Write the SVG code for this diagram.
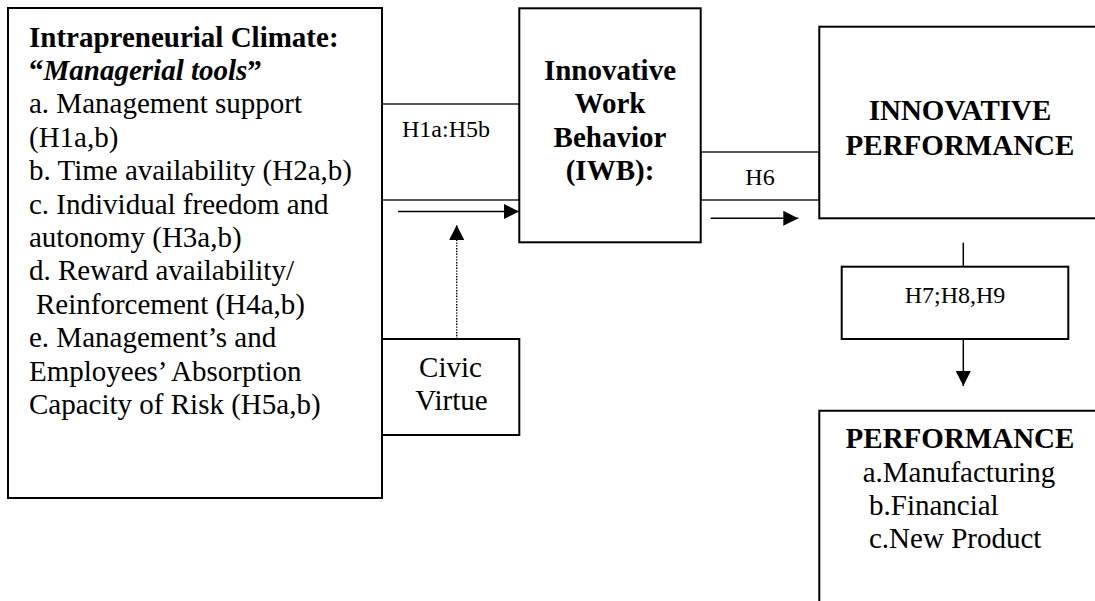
<svg xmlns="http://www.w3.org/2000/svg" width="1095" height="601" viewBox="0 0 1095 601" font-family="'Liberation Serif', 'Times New Roman', Times, serif">
  <style>
    .box { fill: #fff; stroke: #000; stroke-width: 2; }
    .thin { fill: none; stroke: #000; stroke-width: 1.3; }
    text { font-family: 'Liberation Serif', 'Times New Roman', Times, serif; fill: #000; }
    .t { font-size: 29px; }
    .b { font-weight: bold; }
    .s { font-size: 24px; }
    .line { stroke: #000; stroke-width: 1.5; fill: none; }
    .dot { stroke: #000; stroke-width: 1.4; stroke-dasharray: 1.4 1.4; fill: none; }
  </style>
  <defs>
    <marker id="ah" markerWidth="15" markerHeight="15" refX="15" refY="7.5" orient="auto" markerUnits="userSpaceOnUse">
      <path d="M0,0 L15,7.5 L0,15 Z" fill="#000"/>
    </marker>
  </defs>
  <rect width="1095" height="601" fill="#fff"/>

  <!-- Intrapreneurial climate -->
  <g id="climate">
    <rect class="box" x="8" y="8" width="374" height="490"/>
    <text class="t b" x="29" y="46.5">Intrapreneurial Climate:</text>
    <text class="t b" x="29" y="80">“<tspan font-style="italic">Managerial tools</tspan>”</text>
    <text class="t" x="29" y="113.4">a. Management support</text>
    <text class="t" x="29" y="146.8">(H1a,b)</text>
    <text class="t" x="29" y="180.2">b. Time availability (H2a,b)</text>
    <text class="t" x="29" y="213.6">c. Individual freedom and</text>
    <text class="t" x="29" y="247">autonomy (H3a,b)</text>
    <text class="t" x="29" y="280.4">d. Reward availability/</text>
    <text class="t" x="36" y="313.8">Reinforcement (H4a,b)</text>
    <text class="t" x="29" y="347.2">e. Management’s and</text>
    <text class="t" x="29" y="380.6">Employees’ Absorption</text>
    <text class="t" x="29" y="414">Capacity of Risk (H5a,b)</text>
  </g>

  <!-- Hypothesis label H1a:H5b -->
  <g id="h1h5">
    <rect class="thin" x="382" y="104" width="137.3" height="96"/>
    <text class="s" x="402" y="137">H1a:H5b</text>
  </g>

  <!-- Civic virtue -->
  <g id="civic">
    <rect class="box" x="382" y="339" width="137.3" height="96"/>
    <text class="t" x="450.5" y="376.7" text-anchor="middle">Civic</text>
    <text class="t" x="451.5" y="410" text-anchor="middle">Virtue</text>
  </g>

  <!-- Innovative work behavior -->
  <g id="iwb">
    <rect class="box" x="519.3" y="8.3" width="181.4" height="234"/>
    <text class="t b" x="610" y="80" text-anchor="middle">Innovative</text>
    <text class="t b" x="610" y="113.4" text-anchor="middle">Work</text>
    <text class="t b" x="610" y="146.8" text-anchor="middle">Behavior</text>
    <text class="t b" x="610" y="180.2" text-anchor="middle">(IWB):</text>
  </g>

  <!-- Hypothesis label H6 -->
  <g id="h6">
    <rect class="thin" x="700.7" y="152" width="118.6" height="48"/>
    <text class="s" x="760" y="185" text-anchor="middle">H6</text>
  </g>

  <!-- Innovative performance -->
  <g id="innovative-performance">
    <rect class="box" x="819.3" y="26.7" width="290" height="191.6"/>
    <text class="t b" x="960" y="120" text-anchor="middle">INNOVATIVE</text>
    <text class="t b" x="960" y="155" text-anchor="middle">PERFORMANCE</text>
  </g>

  <!-- Hypothesis label H7;H8,H9 -->
  <g id="h7h9">
    <rect class="box" x="841.7" y="266.7" width="226.6" height="72.3"/>
    <text class="s" x="955" y="302.7" text-anchor="middle">H7;H8,H9</text>
  </g>

  <!-- Performance -->
  <g id="performance">
    <path class="box" d="M1110,410.7 H819.3 V610"/>
    <text class="t b" x="960" y="448.3" text-anchor="middle">PERFORMANCE</text>
    <text class="t" x="862.7" y="481.6">a.Manufacturing</text>
    <text class="t" x="869" y="515">b.Financial</text>
    <text class="t" x="869" y="548.3">c.New Product</text>
  </g>

  <!-- Connectors -->
  <g id="connectors">
    <line class="line" x1="398" y1="211.5" x2="519" y2="211.5" marker-end="url(#ah)"/>
    <line class="dot" x1="456.7" y1="339" x2="456.7" y2="225" marker-end="url(#ah)"/>
    <line class="line" x1="710.7" y1="218.3" x2="798.3" y2="218.3" marker-end="url(#ah)"/>
    <line class="line" x1="963.3" y1="242.7" x2="963.3" y2="266.7"/>
    <line class="line" x1="963.3" y1="339" x2="963.3" y2="386" marker-end="url(#ah)"/>
  </g>
</svg>
